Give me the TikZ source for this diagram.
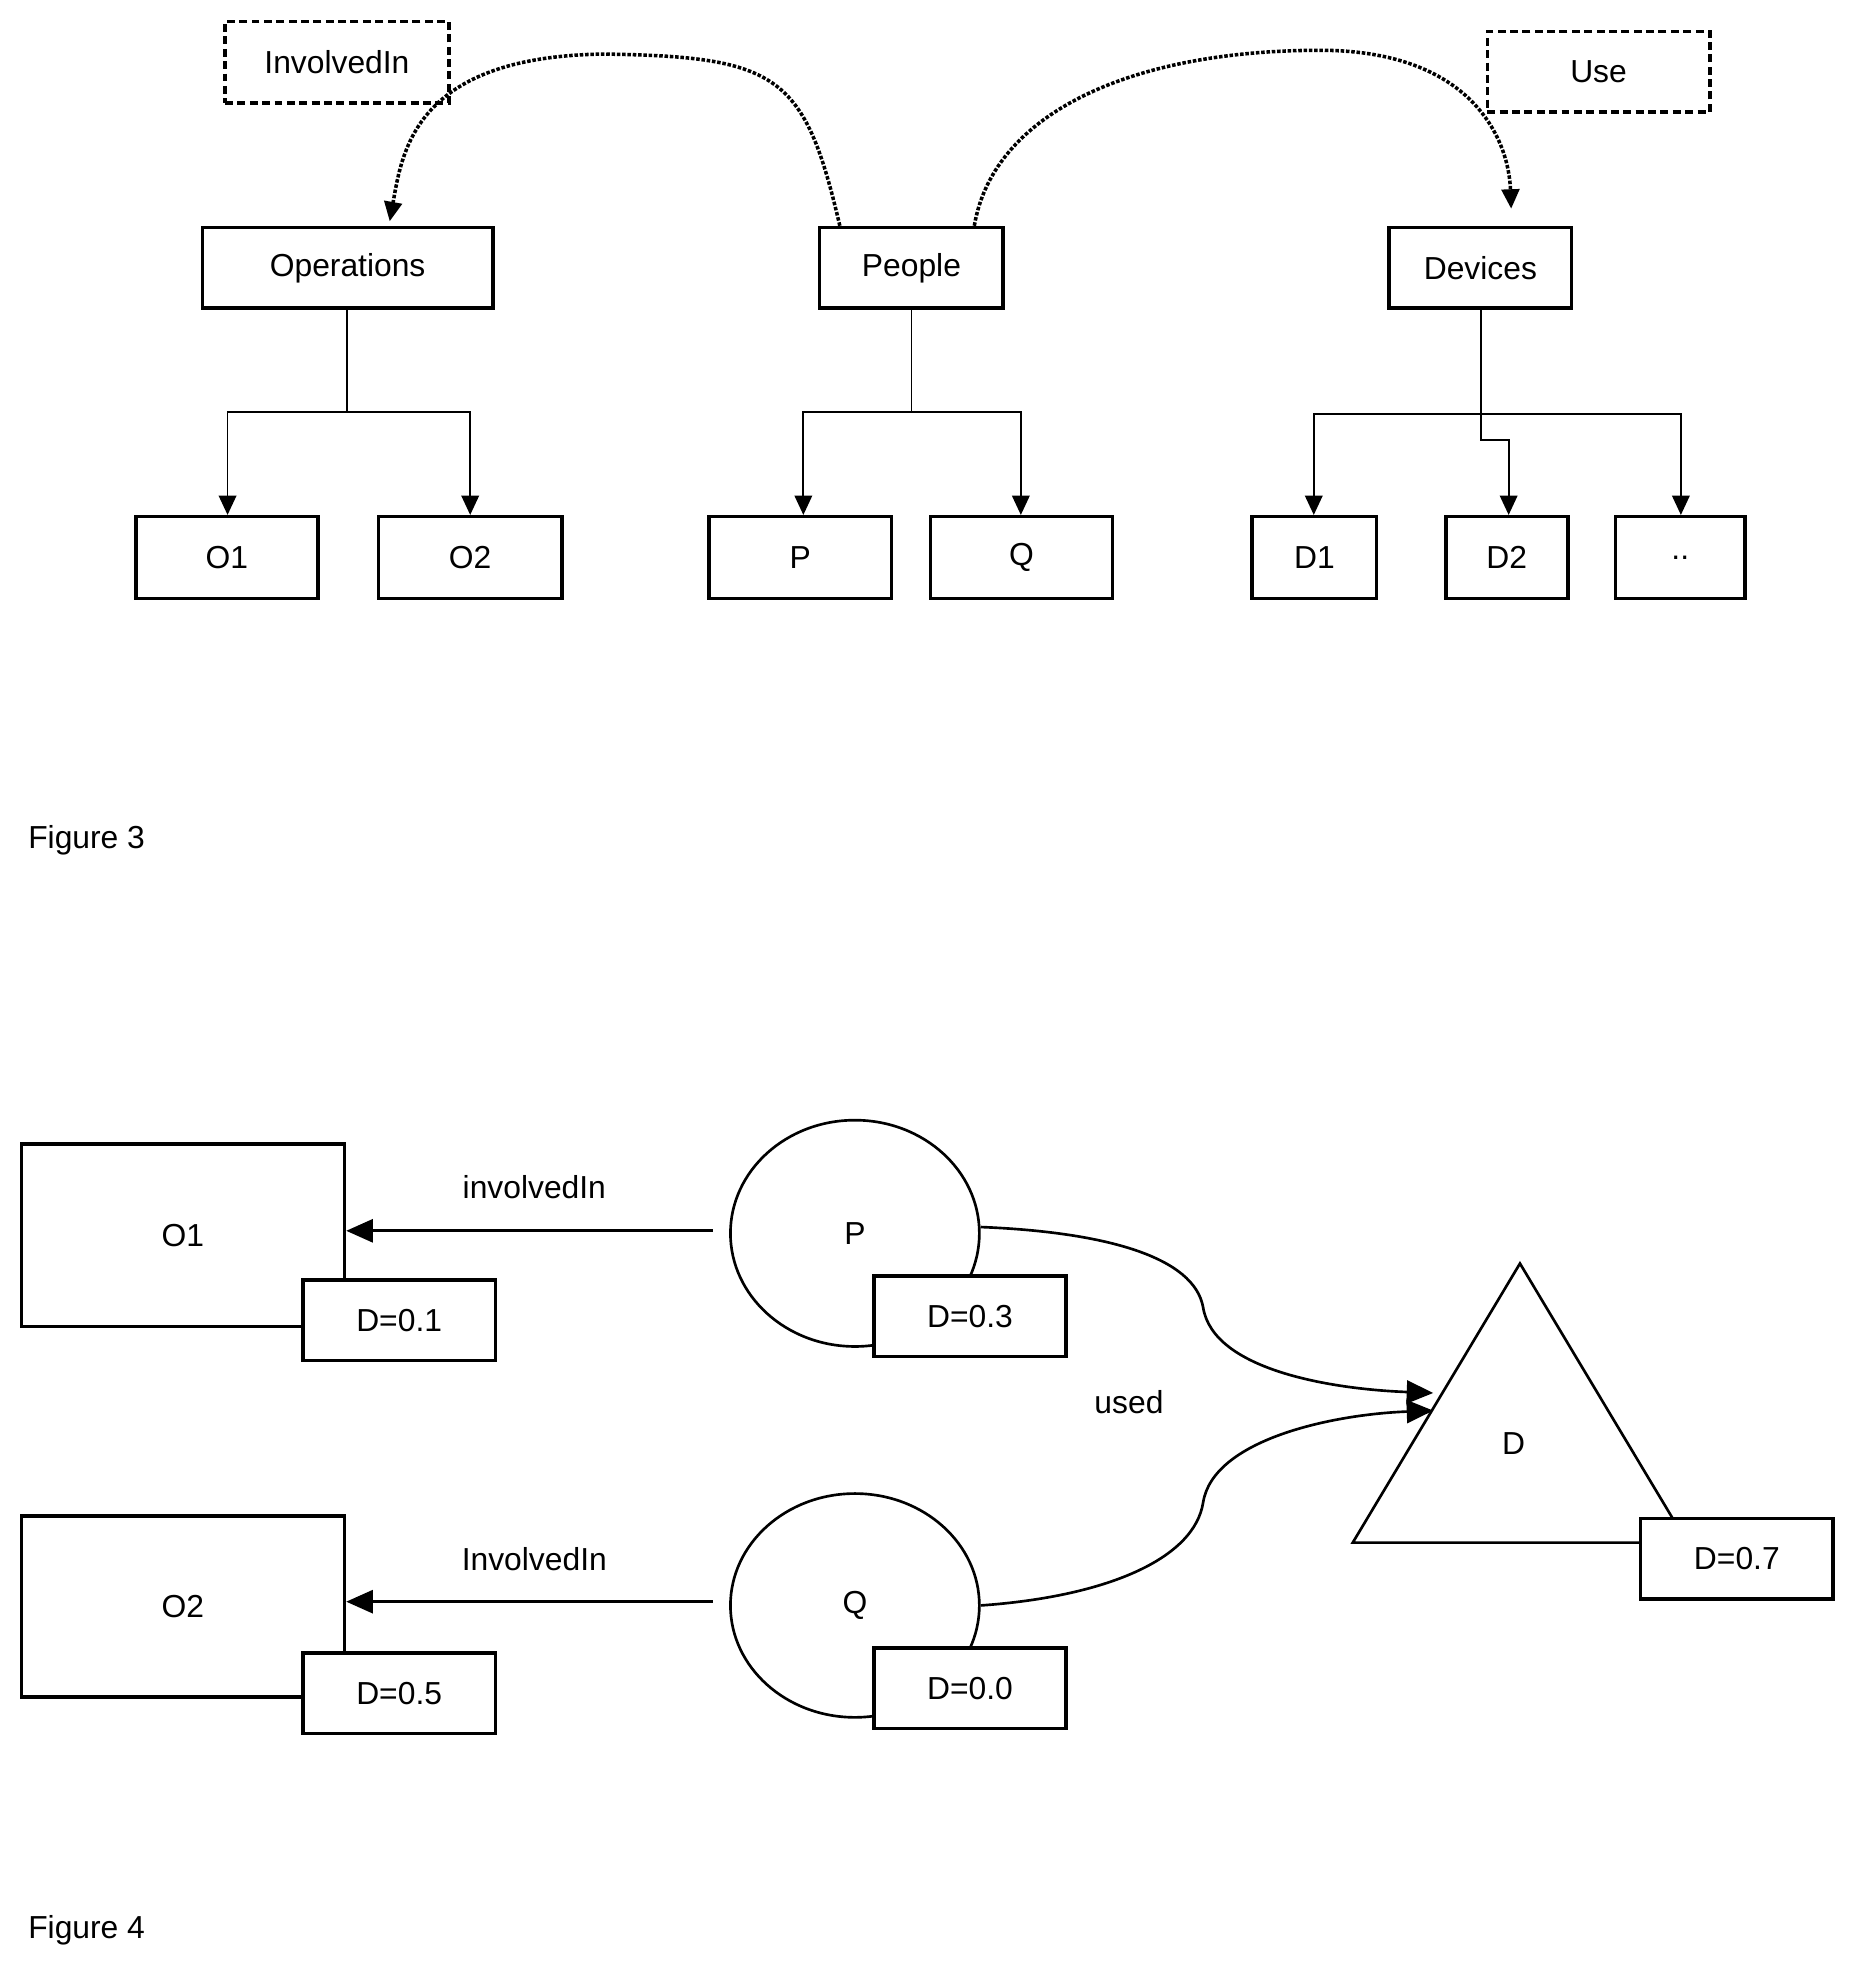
\documentclass[tikz,border=0pt]{standalone}
\usepackage{fontspec}
\setmainfont{Liberation Sans}
\usetikzlibrary{fit,arrows.meta,shapes.geometric}
\begin{document}
\begin{tikzpicture}[x=0.05cm,y=-0.05cm,
  font=\fontsize{36}{42}\selectfont,
  box/.style={draw,line width=4pt,fill=white,inner sep=0pt},
  dbox/.style={box,dashed,dash pattern=on 9pt off 5pt},
  tree/.style={line width=2pt,-{Triangle[length=22pt,width=20pt]}},
  dot/.style={line width=4pt,dotted,-{Triangle[length=22pt,width=20pt]}},
  big/.style={line width=3pt,-{Triangle[length=30pt,width=26pt]}}]
\useasboundingbox (0,0) rectangle (1470,1563);
\newcommand{\bx}[5][box]{\node[#1,fit={(#3)(#4)},label={center:#5}] (#2) {};}
% Figure 3
\bx[dbox]{inv}{179,17}{357,82}{InvolvedIn}
\bx[dbox]{use}{1183,25}{1360,89}{Use}
\bx{ops}{161,181}{392,245}{Operations}
\bx{ppl}{652,181}{798,245}{People}
\bx{dev}{1105,181}{1250,245}{Devices}
\bx{o1}{108,411}{253,476}{O1}
\bx{o2}{301,411}{447,476}{O2}
\bx{p}{564,411}{709,476}{P}
\bx{q}{740,411}{885,476}{Q}
\bx{d1}{996,411}{1095,476}{D1}
\bx{d2}{1150,411}{1247,476}{D2}
\bx{dd}{1285,411}{1388,476}{..}
\draw[tree] (ops.south -| 276,0) |- (181,328) -- (o1.north -| 181,0);
\draw[tree] (276,328) -| (o2.north -| 374,0);
\draw[tree] (ppl.south -| 725,0) |- (639,328) -- (p.north -| 639,0);
\draw[tree] (725,328) -| (q.north -| 812,0);
\draw[tree] (dev.south -| 1178,0) |- (1045,329) -- (d1.north -| 1045,0);
\draw[tree] (1178,329) -| (dd.north -| 1337,0);
\draw[tree] (1178,329) |- (1200,350) -- (d2.north -| 1200,0);
\draw[dot] (ppl.north -| 668,0) .. controls (640,60) and (620,45) .. (480,43) .. controls (330,45) and (320,120) .. (310,176);
\draw[dot] (ppl.north -| 775,0) .. controls (790,90) and (900,40) .. (1050,40) .. controls (1170,40) and (1200,110) .. (1202,166);
\node[anchor=west] (f3) at (20,668) {Figure 3};
% Figure 4
\bx{O1}{17,910}{274,1055}{O1}
\bx{O2}{17,1206}{274,1350}{O2}
\node[draw,line width=3pt,ellipse,minimum width=198*0.05cm,minimum height=180*0.05cm,label={center:P}] (P) at (680,981) {};
\node[draw,line width=3pt,ellipse,minimum width=198*0.05cm,minimum height=178*0.05cm,label={center:Q}] (Q) at (680,1277) {};
\bx{d01}{241,1018}{394,1082}{D=0.1}
\bx{d05}{241,1315}{394,1379}{D=0.5}
\bx{d03}{695,1015}{848,1079}{D=0.3}
\bx{d00}{695,1311}{848,1375}{D=0.0}
\coordinate (t1) at (1209,1005);
\coordinate (t2) at (1076,1227);
\coordinate (t3) at (1342,1227);
\draw[line width=3pt] (t3) -- (t1) -- (t2) -- (t3);
\node (D) at (1204,1148) {D};
\bx{d07}{1305,1208}{1458,1272}{D=0.7}
\draw[big] (567,979) -- (O1.east |- 0,979);
\draw[big] (567,1274) -- (O2.east |- 0,1274);
\node (l1) at (425,944) {involvedIn};
\node (l2) at (425,1240) {InvolvedIn};
\node (l3) at (898,1115) {used};
\coordinate (a1) at (1140,1108);
\coordinate (a2) at (1140,1122);
\draw[big] (P.east |- 0,976) .. controls (880,980) and (950,1000) .. (957,1040) .. controls (965,1090) and (1060,1105) .. (a1);
\draw[big] (Q.east |- 0,1277) .. controls (880,1270) and (950,1240) .. (957,1195) .. controls (965,1145) and (1060,1125) .. (a2);
\node[anchor=west] (f4) at (20,1535) {Figure 4};
\end{tikzpicture}
\end{document}
